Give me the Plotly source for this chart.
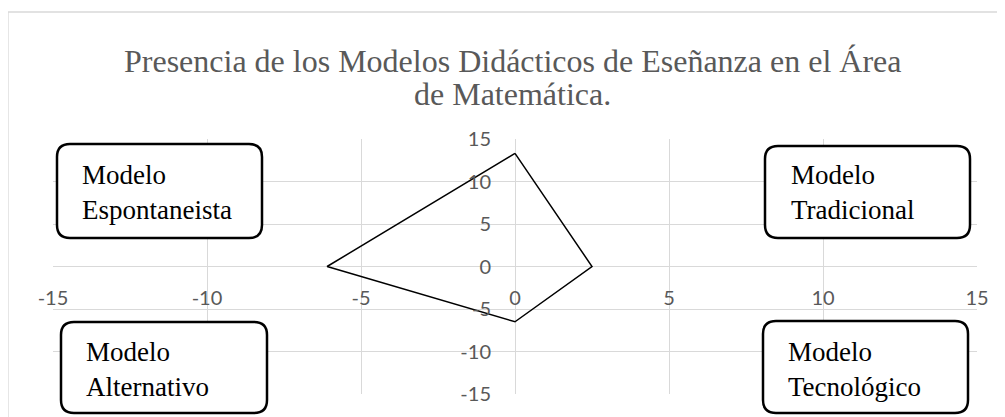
import plotly.graph_objects as go

# polygon vertices (closed): top, right, bottom, left, back to top
x_vals = [0, 2.5, 0, -6.1, 0]
y_vals = [13.3, 0, -6.5, 0, 13.3]

tick_vals = [-15, -10, -5, 0, 5, 10, 15]
tick_text = ["-15", "-10", "-5", "0", "5", "10", "15"]

modelos = ["Modelo<br>Espontaneista", "Modelo<br>Tradicional",
           "Modelo<br>Alternativo", "Modelo<br>Tecnológico"]

title_lines = ["Presencia de los Modelos Didácticos de Eseñanza en el Área",
               "de Matemática."]
autor_text = "Autor: Jhon Jairo Mera Serrano"

# page geometry; the page body adds an 8px offset, targets below are screen pixels
OFF = 8
W, H = 1005, 417
L, R, T, B = 45, 36, 131, 31
PW, PH = W - L - R, H - T - B


def px_x(p):
    return (p - OFF - L) / PW


def px_y(p):
    return (H - B - (p - OFF)) / PH


def rounded_box(left, top, right, bottom, r=13):
    """Rounded rectangle path in paper coords from pixel box"""
    x0, x1 = px_x(left), px_x(right)
    yt, yb = px_y(top), px_y(bottom)
    rx, ry = r / PW, r / PH
    return (f"M {x0+rx},{yt} L {x1-rx},{yt} Q {x1},{yt} {x1},{yt-ry} "
            f"L {x1},{yb+ry} Q {x1},{yb} {x1-rx},{yb} L {x0+rx},{yb} "
            f"Q {x0},{yb} {x0},{yb+ry} L {x0},{yt-ry} Q {x0},{yt} {x0+rx},{yt} Z")


# box frames and text anchors (pixels): left, top, right, bottom, text_x, text_y
boxes = [
    (57, 144, 262, 238, 80, 192),
    (765, 146, 970, 238, 789, 192),
    (61, 322, 267, 413, 84, 369),
    (763, 321, 968, 413, 786, 369),
]

fig = go.Figure()
fig.add_trace(go.Scatter(x=x_vals, y=y_vals, mode="lines",
                         line=dict(color="black", width=1.5),
                         hoverinfo="skip", showlegend=False))

serif = "Liberation Serif, Times New Roman, serif"
shapes = [dict(type="rect", xref="paper", yref="paper",
               x0=px_x(8), y0=px_y(440), x1=px_x(1030), y1=px_y(12),
               line=dict(color="#d9d9d9", width=1.3), layer="below")]
annotations = []
for (l, t, r, b, tx, ty), label in zip(boxes, modelos):
    shapes.append(dict(type="path", xref="paper", yref="paper",
                       path=rounded_box(l, t, r, b),
                       fillcolor="white", line=dict(color="black", width=2.5),
                       layer="above"))
    annotations.append(dict(xref="paper", yref="paper", x=px_x(tx), y=px_y(ty),
                            xanchor="left", yanchor="middle", align="left",
                            showarrow=False, text=label,
                            font=dict(family=serif, size=27, color="black")))

# title, two lines placed separately to keep the tight line spacing
for line, cy in zip(title_lines, [61, 94]):
    annotations.append(dict(xref="paper", yref="paper", x=px_x(512), y=px_y(cy),
                            xanchor="center", yanchor="middle", showarrow=False,
                            text=line,
                            font=dict(family=serif, size=32, color="#595959")))

annotations.append(dict(xref="paper", yref="paper", x=px_x(286), y=px_y(10),
                        xanchor="right", yanchor="bottom", showarrow=False,
                        text=autor_text,
                        font=dict(family=serif, size=26, color="black")))

axis_common = dict(
    range=[-15, 15], tickvals=tick_vals, ticktext=tick_text,
    showgrid=True, gridcolor="#d9d9d9", gridwidth=1,
    zeroline=True, zerolinecolor="#d9d9d9", zerolinewidth=1.3,
    showline=False, ticks="", anchor="free", position=0.5,
    tickfont=dict(family="Lato, Calibri, sans-serif", size=20, color="#595959"),
    fixedrange=True,
)

fig.update_layout(
    width=W, height=H,
    margin=dict(l=L, r=R, t=T, b=B),
    paper_bgcolor="white", plot_bgcolor="white",
    xaxis=dict(axis_common, ticklabelstandoff=17),
    yaxis=dict(axis_common, ticklabelstandoff=24),
    shapes=shapes,
    annotations=annotations,
)

fig.write_html("out.html")
